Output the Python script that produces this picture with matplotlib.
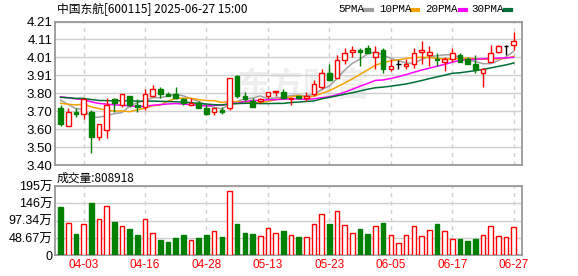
import numpy as np
import pandas as pd
import matplotlib
matplotlib.use('Agg')
import matplotlib.pyplot as plt

plt.rcParams['font.family'] = ['Noto Sans CJK SC', 'DejaVu Sans']

# 日期(交易日)
dates = ['03-31', '04-01', '04-02', '04-03', '04-07', '04-08', '04-09', '04-10', '04-11', '04-14',
         '04-15', '04-16', '04-17', '04-18', '04-21', '04-22', '04-23', '04-24', '04-25', '04-28',
         '04-29', '04-30', '05-06', '05-07', '05-08', '05-09', '05-12', '05-13', '05-14', '05-15',
         '05-16', '05-19', '05-20', '05-21', '05-22', '05-23', '05-26', '05-27', '05-28', '05-29',
         '05-30', '06-03', '06-04', '06-05', '06-06', '06-09', '06-10', '06-11', '06-12', '06-13',
         '06-16', '06-17', '06-18', '06-19', '06-20', '06-23', '06-24', '06-25', '06-26', '06-27']

opens = [3.72, 3.62, 3.70, 3.69, 3.70, 3.56, 3.60, 3.77, 3.74, 3.79,
         3.74, 3.73, 3.79, 3.83, 3.80, 3.80, 3.77, 3.74, 3.75, 3.72,
         3.70, 3.71, 3.72, 3.90, 3.79, 3.76, 3.76, 3.79, 3.81, 3.81,
         3.77, 3.79, 3.78, 3.80, 3.84, 3.92, 3.89, 3.99, 4.04, 4.05,
         4.06, 4.01, 4.05, 3.94, 3.97, 3.96, 3.97, 4.04, 4.02, 4.00,
         3.98, 4.00, 4.02, 4.00, 3.97, 3.92, 3.98, 4.04, 4.07, 4.08]
highs = [3.74, 3.72, 3.72, 3.78, 3.71, 3.63, 3.78, 3.78, 3.80, 3.79,
         3.77, 3.83, 3.85, 3.84, 3.81, 3.84, 3.78, 3.78, 3.76, 3.74,
         3.72, 3.73, 3.89, 3.91, 3.81, 3.78, 3.78, 3.81, 3.82, 3.83,
         3.78, 3.79, 3.81, 3.88, 3.94, 3.97, 4.02, 4.06, 4.07, 4.06,
         4.08, 4.07, 4.06, 4.00, 3.99, 4.00, 4.06, 4.10, 4.07, 4.03,
         4.01, 4.06, 4.03, 4.01, 4.02, 3.95, 4.08, 4.08, 4.08, 4.15]
lows = [3.62, 3.62, 3.67, 3.66, 3.47, 3.54, 3.55, 3.70, 3.73, 3.73,
        3.70, 3.71, 3.79, 3.78, 3.79, 3.77, 3.74, 3.74, 3.72, 3.68,
        3.68, 3.69, 3.71, 3.78, 3.76, 3.73, 3.75, 3.78, 3.79, 3.78,
        3.74, 3.77, 3.76, 3.79, 3.83, 3.88, 3.89, 3.97, 4.01, 3.96,
        4.03, 3.94, 3.92, 3.93, 3.94, 3.94, 3.95, 3.97, 3.96, 3.96,
        3.93, 3.98, 3.98, 3.97, 3.92, 3.84, 3.98, 4.03, 4.02, 4.05]
closes = [3.63, 3.70, 3.69, 3.77, 3.56, 3.63, 3.74, 3.75, 3.80, 3.74,
          3.73, 3.80, 3.83, 3.80, 3.79, 3.78, 3.75, 3.75, 3.72, 3.69,
          3.72, 3.70, 3.89, 3.79, 3.77, 3.73, 3.77, 3.81, 3.82, 3.78,
          3.78, 3.78, 3.79, 3.86, 3.92, 3.88, 3.99, 4.03, 4.05, 4.04,
          4.03, 4.04, 3.94, 3.96, 3.97, 3.97, 4.03, 4.05, 4.04, 3.99,
          4.00, 4.03, 3.98, 3.97, 3.94, 3.94, 4.03, 4.07, 4.07, 4.10]
# 成交量(万手)
volumes = [136.8, 90.2, 59.8, 87.4, 148.2, 101.6, 138.7, 94.0, 81.7, 74.1,
           57.0, 101.6, 61.7, 42.7, 37.0, 48.4, 57.0, 41.8, 48.4, 57.0,
           67.4, 51.3, 181.4, 88.3, 62.7, 59.8, 53.2, 76.0, 61.7, 68.4,
           56.0, 51.3, 50.3, 87.4, 115.9, 88.3, 124.4, 84.5, 61.7, 74.1,
           59.8, 81.7, 91.2, 56.0, 33.2, 56.0, 81.7, 53.2, 70.3, 88.3,
           67.4, 44.6, 44.6, 39.9, 44.6, 56.0, 81.7, 53.2, 50.3, 80.89]
# 03-31之前的收盘价(按均线起点水平估计)
pre_close = [3.78, 3.79, 3.77, 3.76, 3.78, 3.77, 3.79, 3.78, 3.76, 3.78,
             3.80, 3.82, 3.84, 3.83, 3.81, 3.82, 3.83, 3.84, 3.81, 3.82,
             3.75, 3.73, 3.72, 3.72, 3.73, 3.82, 3.81, 3.79, 3.78]

tick_idx = [3, 11, 19, 27, 35, 43, 51, 59]
price_lo, price_hi = 3.40, 4.21
price_labels = ['3.40', '3.50', '3.60', '3.70', '3.80', '3.91', '4.01', '4.11', '4.21']
vol_max = 194.68
vol_labels = ['0', '48.67万', '97.34万', '146万', '195万']

ma_periods = [5, 10, 20, 30]
ma_colors = ['#a0a0a0', '#f5a300', '#ff00ff', '#006f35']

RED = '#ff0000'
GREEN = '#008000'
GRID = '#d0d0d0'
FRAME = '#999999'

n = len(closes)
x = np.arange(n)
o = np.array(opens)
c = np.array(closes)
h = np.array(highs)
l = np.array(lows)
up = c > o
flat = c == o

W, H = 578, 276
fig = plt.figure(figsize=(W / 100, H / 100), dpi=100)
ax1 = fig.add_axes([55 / W, 1 - 165 / H, 467 / W, 143.5 / H])
ax2 = fig.add_axes([55 / W, 1 - 255.3 / H, 467 / W, 69.3 / H])

# 均线
all_close = pd.Series(pre_close + closes)
for p, col in zip(ma_periods, ma_colors):
    ma = all_close.rolling(p).mean().values[len(pre_close):]
    ax1.plot(x, ma, color=col, lw=1.1, zorder=2)

# K线
bw = 0.6
colors = np.where(flat, 'black', np.where(up, RED, GREEN))
ax1.vlines(x, l, h, colors=colors, lw=1, zorder=3)
bottom = np.minimum(o, c)
height = np.maximum(np.abs(c - o), 0.0008)
face = np.where(up, 'white', np.where(flat, 'black', GREEN))
ax1.bar(x, height, bw, bottom=bottom, color=face, edgecolor=colors, lw=1, zorder=4)

# 水印
ax1.text(0.53, 0.54, '东方财富', transform=ax1.transAxes, fontsize=24, fontweight='bold',
         style='italic', color='#eeeeee', ha='center', va='center', zorder=0)

# 成交量
vface = np.where(c >= o, 'white', GREEN)
vedge = np.where(c >= o, RED, GREEN)
ax2.bar(x, volumes, bw, color=vface, edgecolor=vedge, lw=1, zorder=3)

for ax in (ax1, ax2):
    ax.set_xlim(-0.72, 60.08)
    ax.set_xticks(tick_idx)
    ax.grid(axis='x', color=GRID, lw=1, ls=(0, (3, 3)))
    ax.grid(axis='y', color=GRID, lw=1)
    ax.set_axisbelow(True)
    ax.tick_params(length=0)
    for s in ax.spines.values():
        s.set_color(FRAME)
        s.set_linewidth(1.3)

ax1.set_ylim(price_lo, price_hi)
ax1.set_yticks(np.linspace(price_lo, price_hi, len(price_labels)))
ax1.set_yticklabels(price_labels, fontsize=9.5, family='Liberation Sans')
ax1.set_xticklabels([])
ax1.tick_params(axis='y', pad=2)

ax2.set_ylim(0, vol_max)
ax2.set_yticks(np.linspace(0, vol_max, len(vol_labels)))
ax2.set_yticklabels(vol_labels, fontsize=9, family=['Liberation Sans', 'Noto Sans CJK SC'])
ax2.set_xticklabels([dates[i] for i in tick_idx], fontsize=8.5, color=RED, family='Liberation Sans')
ax2.tick_params(axis='y', pad=2)
ax2.tick_params(axis='x', pad=3)

# 标题和图例
fig.text(57 / W, 1 - 9.5 / H, '中国东航[600115] 2025-06-27 15:00', fontsize=8.5, va='center')
fig.text(57 / W, 1 - 178 / H, '成交量:808918', fontsize=8.5, va='center')
leg_x = [338.5, 379.5, 425, 471]
leg_names = ['5PMA', '10PMA', '20PMA', '30PMA']
dash_x = [365, 411.5, 459.5, 504.5]
for lx, name, dx, col in zip(leg_x, leg_names, dash_x, ma_colors):
    fig.text(lx / W, 1 - 9.5 / H, name, fontsize=7.8, family='Liberation Mono', va='center')
    fig.add_artist(plt.Line2D([dx / W, (dx + 6.5) / W], [1 - 9.5 / H] * 2, color=col, lw=3,
                              transform=fig.transFigure))

fig.savefig('out.png', dpi=100)
